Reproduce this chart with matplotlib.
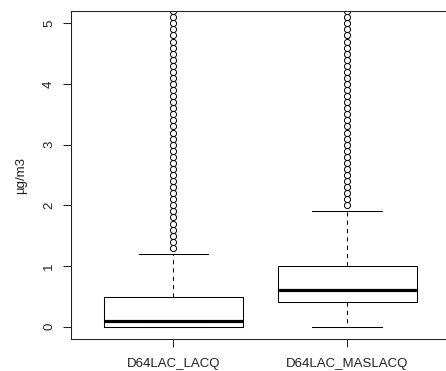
import matplotlib
matplotlib.use('Agg')
import matplotlib.pyplot as plt

plt.rcParams['font.family'] = ['Liberation Sans', 'DejaVu Sans']

# ---- data ----
categories = ['D64LAC_LACQ', 'D64LAC_MASLACQ']
whisker_low = [0.0, 0.0]
q1 = [0.0, 0.4]
median = [0.09, 0.6]
q3 = [0.49, 1.0]
whisker_high = [1.19, 1.9]
outliers_lacq = [1.3, 1.4, 1.5, 1.6, 1.7, 1.8, 1.9, 2.0, 2.1, 2.2, 2.3, 2.4,
                 2.5, 2.6, 2.7, 2.8, 2.9, 3.0, 3.1, 3.2, 3.3, 3.4, 3.5, 3.6,
                 3.7, 3.8, 3.9, 4.0, 4.1, 4.2, 4.3, 4.4, 4.5, 4.6, 4.7, 4.8,
                 4.9, 5.0, 5.1, 5.2]
outliers_maslacq = [2.0, 2.1, 2.2, 2.3, 2.4, 2.5, 2.6, 2.7, 2.8, 2.9, 3.0,
                    3.1, 3.2, 3.3, 3.4, 3.5, 3.6, 3.7, 3.8, 3.9, 4.0, 4.1,
                    4.2, 4.3, 4.4, 4.5, 4.6, 4.7, 4.8, 4.9, 5.0, 5.1, 5.2]
y_ticks = [0, 1, 2, 3, 4, 5]
y_label = 'µg/m3'

outliers = [outliers_lacq, outliers_maslacq]
stats = []
for i, name in enumerate(categories):
    stats.append(dict(label=name, whislo=whisker_low[i], q1=q1[i], med=median[i],
                      q3=q3[i], whishi=whisker_high[i], fliers=outliers[i]))

W, H = 446, 371
fig = plt.figure(figsize=(W / 100, H / 100), dpi=100)
left_px, right_px, top_px, bottom_px = 71, 448, 11, 339
ax = fig.add_axes([left_px / W, (H - bottom_px) / H,
                   (right_px - left_px) / W, (bottom_px - top_px) / H])

lw = 0.75
ax.bxp(stats, positions=[1, 2], widths=0.8, capwidths=0.4,
       boxprops=dict(color='black', linewidth=lw),
       whiskerprops=dict(color='black', linewidth=lw, linestyle=(0, (4, 4))),
       capprops=dict(color='black', linewidth=lw),
       medianprops=dict(color='black', linewidth=2.3, solid_capstyle='butt'),
       flierprops=dict(marker='o', markerfacecolor='none', markeredgecolor='black',
                       markersize=4.4, markeredgewidth=0.7, linestyle='none'))

ax.set_xlim(0.412, 2.579)
ax.set_ylim(-0.203, 5.203)
ax.set_yticks(y_ticks)
ax.set_yticklabels([str(t) for t in y_ticks])
ax.set_xticks([1, 2])
ax.set_xticklabels(categories)

for s in ax.spines.values():
    s.set_linewidth(lw)
    s.set_color('#222222')

fs = 9.5
ax.tick_params(axis='both', length=5.5, width=lw, color='#222222', labelsize=fs,
               labelcolor='#222222')
ax.tick_params(axis='y', pad=6)
ax.tick_params(axis='x', pad=8)
for lab in ax.get_yticklabels():
    lab.set_rotation(90)
    lab.set_va('center')
    lab.set_ha('right')

ax.set_ylabel(y_label, fontsize=fs, color='#222222', va='center')
ax.yaxis.set_label_coords((21 - left_px) / (right_px - left_px), 0.5)

fig.savefig('out.png', dpi=100)
